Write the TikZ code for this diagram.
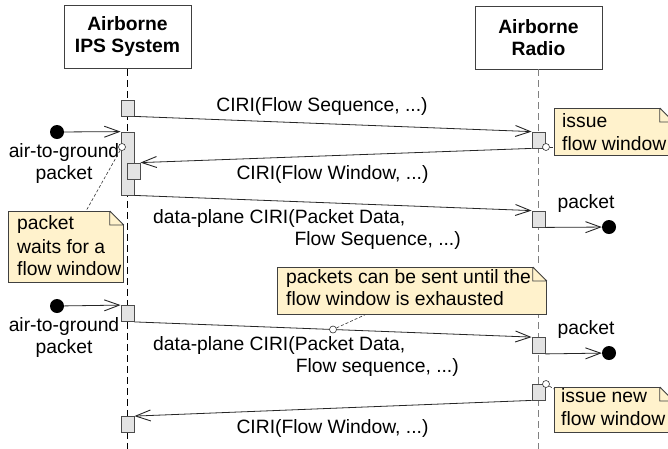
\documentclass[tikz,border=0pt]{standalone}
\usepackage{fontspec}
\setmainfont{Liberation Sans}
\usetikzlibrary{arrows.meta,calc}
\definecolor{notefill}{HTML}{FFF2CC}
\definecolor{actfill}{HTML}{E3E3E3}
\newcommand\notefold[1]{%
  \fill[white] ([xshift=-14pt,yshift=0.7pt]#1.north east) -- ([xshift=0.7pt,yshift=0.7pt]#1.north east) -- ([xshift=0.7pt,yshift=-14pt]#1.north east) -- cycle;
  \draw[foldline] ([xshift=-14pt]#1.north east) -- ([yshift=-14pt]#1.north east)
    ([xshift=-14pt]#1.north east) -- ([xshift=-14pt,yshift=-14pt]#1.north east) -- ([yshift=-14pt]#1.north east);}
\begin{document}
\begin{tikzpicture}[x=1pt,y=-1pt,font=\fontsize{19.3}{22}\selectfont,
  head/.style={draw=black!75, line width=0.8pt, minimum width=127pt, minimum height=63pt, inner sep=0pt, align=center, font=\fontsize{19.3}{22}\selectfont\bfseries},
  act/.style={draw=black!70, fill=actfill, line width=0.8pt, minimum width=13pt, minimum height=16pt, inner sep=0pt},
  msg/.style={draw=black!85, line width=0.8pt, -{Straight Barb[length=15pt,width=11pt,line width=0.9pt]}},
  lifeA/.style={black, line width=0.8pt, dash pattern=on 7pt off 4pt},
  lifeB/.style={black!50, line width=1pt, dash pattern=on 7pt off 4pt},
  lbl/.style={inner sep=0pt, anchor=base},
  lblw/.style={inner sep=0pt, anchor=base west},
  lble/.style={inner sep=0pt, anchor=base east},
  notebox/.style={draw=black!75, fill=notefill, line width=0.8pt, inner sep=0pt, anchor=north west},
  foldline/.style={draw=black!75, line width=0.8pt},
  startdot/.style={circle, fill=black, minimum size=14pt, inner sep=0pt},
  anch/.style={circle, draw=black!80, fill=white, minimum size=7pt, inner sep=0pt, line width=0.6pt},
  link/.style={black!80, line width=0.6pt, dash pattern=on 3pt off 2pt}]
\useasboundingbox (0,0) rectangle (668,448);

% heads
\node[head] (h1) at (127.5,37) {Airborne\\IPS System};
\node[head] (h2) at (538.5,37.5) {Airborne\\Radio};

% lifelines
\coordinate (l1b) at (127.5,450);
\coordinate (l2b) at (538.5,450);
\draw[lifeA] (h1.south) -- (l1b);
\draw[lifeB] (h2.south) -- (l2b);

% activation boxes
\node[act] (a1) at (127.5,108) {};
\node[act, minimum height=63pt] (bar) at (127.5,163.5) {};
\node[act] (b2) at (133.5,171) {};
\node[act] (a3) at (127.5,313.5) {};
\node[act] (a5) at (127.5,424.5) {};
\node[act] (r1) at (538.5,140) {};
\node[act] (r3) at (538.5,219) {};
\node[act] (r4) at (538.5,345.5) {};
\node[act] (r5) at (538.5,392) {};

% start / end dots
\node[startdot] (s1) at (57,132) {};
\node[startdot] (s2) at (57,306) {};
\node[startdot] (e1) at (609,227) {};
\node[startdot] (e2) at (609,353) {};

% messages
\draw[msg] (a1.south east) -- (r1.north west);
\draw[msg] (r1.south west) -- (b2.north east);
\draw[msg] (bar.south east) -- (r3.north west);
\draw[msg] (a3.south east) -- (r4.north west);
\draw[msg] (r5.south west) -- (a5.north east);
\draw[msg] (s1) -- (bar.north west);
\draw[msg] (s2) -- (a3.north west);
\draw[msg] (r3.south east) -- (e1);
\draw[msg] (r4.south east) -- (e2);

% message labels
\node[lbl] (m1) at (322,111) {CIRI(Flow Sequence, ...)};
\node[lbl] (m2) at (332.5,179) {CIRI(Flow Window, ...)};
\node[lblw] (m3a) at (153,223) {data-plane CIRI(Packet Data,};
\node[lble] (m3b) at (461,245) {Flow Sequence, ...)};
\node[lblw] (m4a) at (153,350) {data-plane CIRI(Packet Data,};
\node[lble] (m4b) at (459,372) {Flow sequence, ...)};
\node[lbl] (m5) at (332.5,433) {CIRI(Flow Window, ...)};
\node[lbl] (pk1) at (586,208) {packet};
\node[lbl] (pk2) at (586,334) {packet};
\node[lbl] (ag1) at (64,157) {air-to-ground};
\node[lbl] (ag1b) at (64,179) {packet};
\node[lbl] (ag2) at (64,331) {air-to-ground};
\node[lbl] (ag2b) at (64,353) {packet};

% notes
\node[notebox, minimum width=119pt, minimum height=47pt] (n1) at (554,108) {};
\notefold{n1}
\node[lblw] (n1a) at (562,127) {issue};
\node[lblw] (n1b) at (562,150) {flow window};

\node[notebox, minimum width=115pt, minimum height=71pt] (n2) at (8,211) {};
\notefold{n2}
\node[lblw] (n2a) at (17,229) {packet};
\node[lblw] (n2b) at (17,253) {waits for a};
\node[lblw] (n2c) at (17,275) {flow window};

\node[notebox, minimum width=269pt, minimum height=47pt] (n3) at (277,267) {};
\notefold{n3}
\node[lblw] (n3a) at (286,283) {packets can be sent until the};
\node[lblw] (n3b) at (286,305) {flow window is exhausted};

\node[notebox, minimum width=119pt, minimum height=45pt] (n4) at (554,387) {};
\notefold{n4}
\node[lblw] (n4a) at (561,402) {issue new};
\node[lblw] (n4b) at (561,425) {flow window};

% note links
\node[anch] (c1) at (546,147) {};
\node[anch] (c2) at (122,147) {};
\node[anch] (c3) at (333,329.5) {};
\node[anch] (c4) at (546,384) {};
\draw[link] (c1) -- (c1 -| n1.west);
\draw[link] (c2) -- ($(n2.north west)+(78,0)$);
\draw[link] (c3) -- ($(n3.south west)+(88,0)$);
\draw[link] (c4) -- ($(n4.north west)+(0,2)$);
\end{tikzpicture}
\end{document}
